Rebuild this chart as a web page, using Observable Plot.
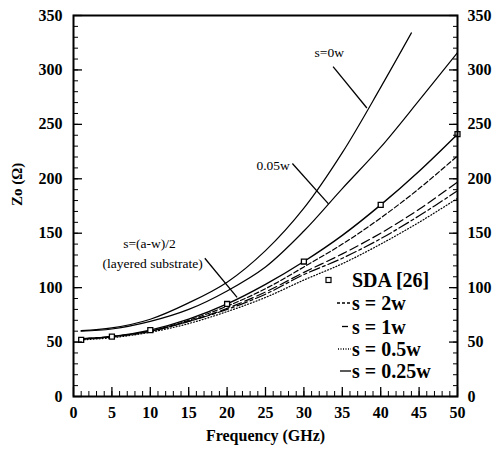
<!DOCTYPE html>
<html><head><meta charset="utf-8">
<script src="https://cdn.jsdelivr.net/npm/d3@7"></script>
<script src="https://cdn.jsdelivr.net/npm/@observablehq/plot@0.6"></script>
<style>body{margin:0;background:#fff}svg{display:block}</style>
</head><body><div id="chart"></div>
<script>
// ---- data ----
const freq = [1,5,10,15,20,25,30,35,40,45,50];
const freqS0 = [1,5,10,15,20,25,30,35,40,44];
const zS0w = [60.5,63,71,86,105,134,173,224,284,334];
const zS005w = [60,62,69,80,97,119,152,191,229,272,316];
const zLayered = [53,55,61,71,85,103,124,148,176,207,241];
const z2w = [53,55,60,70,83,99,119,140,164,191,221];
const z1w = [53,55,60,69,81,96,114,131,150,172,197];
const z05w = [52,54,59,67,78,91,107,122,140,160,182];
const z025w = [53,55,60,69,80,94,112,127,145,166,189];
const sdaFreq = [1,5,10,20,30,40,50];
const sdaZ = [52,55,61,85,124,176,241];
const xTicks = [0,5,10,15,20,25,30,35,40,45,50];
const xMinorTicks = d3.range(0,51,1);
const yTicks = [0,50,100,150,200,250,300,350];
const yMinorTicks = d3.range(0,351,10);
const legendLabels = ["SDA [26]","s = 2w","s = 1w","s = 0.5w","s = 0.25w"];
// annotations (data units)
const annoText = [
  {x:33.3, y:316, t:"s=0w"},
  {x:26.0, y:212, t:"0.05w"},
  {x:9.9, y:140.5, t:"s=(a-w)/2"},
  {x:10.3, y:122, t:"(layered substrate)"}
];
const annoLinks = [
  {x1:33.8, y1:303, x2:38.2, y2:265},
  {x1:28.5, y1:214, x2:33.2, y2:177},
  {x1:17.1, y1:127, x2:21.3, y2:91}
];

const serif = "'Liberation Serif','DejaVu Serif',serif";
const rows = (xs, ys) => xs.map((x,i)=>({x, y: ys[i]}));
const series = [
  {d: rows(freqS0, zS0w), dash: null, w: 1.2},
  {d: rows(freq, zS005w), dash: null, w: 1.2},
  {d: rows(freq, zLayered), dash: null, w: 1.4},
  {d: rows(freq, z2w), dash: "5,2.5", w: 1.2},
  {d: rows(freq, z1w), dash: "9,4", w: 1.2},
  {d: rows(freq, z05w), dash: "1,2", w: 1.2},
  {d: rows(freq, z025w), dash: "11,3,3,3", w: 1.2}
];
const tickFont = {fontFamily: serif, fontSize: 16, fontWeight: "bold"};

const svg = Plot.plot({
  width: 494, height: 456,
  marginLeft: 73, marginRight: 37, marginTop: 15, marginBottom: 60,
  x: {domain: [0,50]},
  y: {domain: [0,350]},
  style: {fontFamily: serif, background: "#fff", color: "#000"},
  marks: [
    ...series.map(s => Plot.line(s.d, {x:"x", y:"y", stroke:"#000", strokeWidth: s.w, strokeDasharray: s.dash, curve:"catmull-rom"})),
    Plot.dot(rows(sdaFreq, sdaZ), {x:"x", y:"y", symbol:"square", r:2.8, stroke:"#000", fill:"#fff", strokeWidth:1.3}),
    Plot.link(annoLinks, {x1:"x1", y1:"y1", x2:"x2", y2:"y2", stroke:"#000", strokeWidth:1.3}),
    Plot.text(annoText, {x:"x", y:"y", text:"t", fontFamily: serif, fontSize: 13.5, fill:"#000"}),
    // axes ticks (inward)
    Plot.axisX(xTicks, {anchor:"bottom", tickSize:-9, text:null, label:null, strokeWidth:1.3}),
    Plot.axisX(xMinorTicks, {anchor:"bottom", tickSize:-5, text:null, label:null}),
    Plot.axisX(xTicks, {anchor:"bottom", tickSize:0, tickPadding:10, label:null, ...tickFont}),
    Plot.axisY(yTicks, {anchor:"left", tickSize:-9, text:null, label:null, strokeWidth:1.3}),
    Plot.axisY(yMinorTicks, {anchor:"left", tickSize:-5, text:null, label:null}),
    Plot.axisY(yTicks, {anchor:"left", tickSize:0, tickPadding:11, label:null, ...tickFont}),
    Plot.axisY(yTicks, {anchor:"right", tickSize:-9, text:null, label:null, strokeWidth:1.3}),
    Plot.axisY(yMinorTicks, {anchor:"right", tickSize:-5, text:null, label:null}),
    Plot.axisY(yTicks, {anchor:"right", tickSize:0, tickPadding:10, label:null, ...tickFont}),
    Plot.frame({stroke:"#000", strokeWidth:2}),
    Plot.text(["Frequency (GHz)"], {frameAnchor:"bottom", dy:44, fontFamily: serif, fontSize:16, fontWeight:"bold"}),
    Plot.text(["Zo (Ω)"], {frameAnchor:"left", dx:-56, rotate:-90, fontFamily: serif, fontSize:15, fontWeight:"bold"})
  ]
});
document.getElementById("chart").append(svg);

// legend (inside plot, lower right)
const g = d3.select(svg).append("g").attr("font-family", serif).attr("font-size", 20)
  .attr("font-weight", "bold").attr("text-anchor", "start");
const rowY = [280, 303, 326.5, 349, 371];
const legendStyle = [
  {kind:"square"},
  {kind:"line", dash:"3,2", x1:337, x2:351},
  {kind:"line", dash:null, x1:342, x2:348},
  {kind:"line", dash:"1,1.5", x1:338, x2:351},
  {kind:"line", dash:null, x1:340, x2:351}
];
legendLabels.forEach((lab, i) => {
  const st = legendStyle[i];
  if (st.kind === "square") {
    g.append("rect").attr("x", 326).attr("y", rowY[i]-2.5).attr("width", 5).attr("height", 5)
      .attr("fill", "#fff").attr("stroke", "#000").attr("stroke-width", 1.2);
  } else {
    g.append("line").attr("x1", st.x1).attr("x2", st.x2).attr("y1", rowY[i]).attr("y2", rowY[i])
      .attr("stroke", "#000").attr("stroke-width", 1.3).attr("stroke-dasharray", st.dash);
  }
  g.append("text").attr("x", 352).attr("y", rowY[i]).attr("dy", "0.35em").text(lab);
});
</script>
</body></html>
